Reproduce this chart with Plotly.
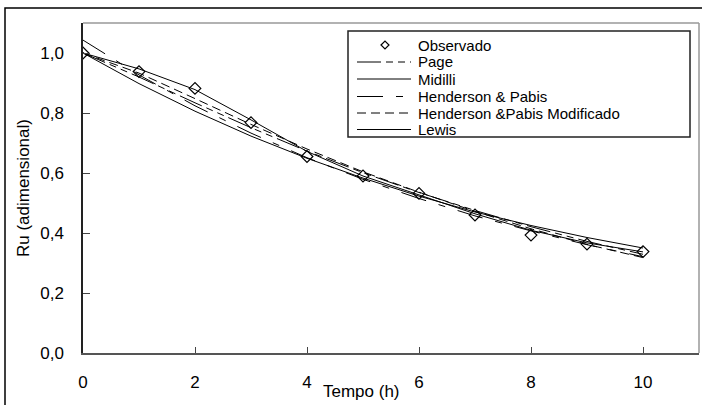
import plotly.graph_objects as go

# ---------------- data ----------------
tempo = [0, 1, 2, 3, 4, 5, 6, 7, 8, 9, 10]
observado = [1.000, 0.938, 0.882, 0.768, 0.655, 0.590, 0.532, 0.460, 0.393, 0.363, 0.338]
page = [1.000, 0.920, 0.834, 0.751, 0.673, 0.601, 0.535, 0.475, 0.421, 0.372, 0.329]
midilli = [1.000, 0.947, 0.878, 0.777, 0.672, 0.590, 0.527, 0.464, 0.409, 0.367, 0.337]
henderson = [1.043, 0.927, 0.824, 0.733, 0.651, 0.579, 0.515, 0.457, 0.407, 0.361, 0.321]
henderson_mod = [1.000, 0.933, 0.848, 0.762, 0.680, 0.604, 0.536, 0.472, 0.414, 0.362, 0.318]
lewis = [1.000, 0.898, 0.806, 0.723, 0.649, 0.583, 0.523, 0.470, 0.425, 0.385, 0.350]

series_names = ["Observado", "Page", "Midilli", "Henderson & Pabis",
                "Henderson &Pabis Modificado", "Lewis"]
x_ticks = [0, 2, 4, 6, 8, 10]
y_ticks = [0.0, 0.2, 0.4, 0.6, 0.8, 1.0]

# ---------------- styles ----------------
FONT = "Liberation Sans, Arial, sans-serif"
DASH_PAGE = "24px,5px,7px,5px,7px,5px"
DASH_HP = "26px,13px,7px,13px"
DASH_HPM = "9px,5px"

W, H = 702, 405
L, R, T, B = 83, 3, 23, 52
PW, PH = W - L - R, H - T - B


def px(x):
    return (x - L) / PW


def py(y):
    return (H - B - y) / PH


fig = go.Figure()

models = [
    (series_names[1], page, DASH_PAGE),
    (series_names[2], midilli, "solid"),
    (series_names[3], henderson, DASH_HP),
    (series_names[4], henderson_mod, DASH_HPM),
    (series_names[5], lewis, "solid"),
]
for name, vals, dash in models:
    fig.add_trace(go.Scatter(x=tempo, y=vals, mode="lines", name=name,
                             line=dict(color="black", width=1, dash=dash),
                             showlegend=False))

fig.add_trace(go.Scatter(x=tempo, y=observado, mode="markers", name=series_names[0],
                         marker=dict(symbol="diamond-open", size=9,
                                     color="black", line=dict(width=1.2, color="black")),
                         showlegend=False))

shapes = []
# outer frame (cut by the picture edges on right / bottom)
shapes.append(dict(type="rect", xref="paper", yref="paper",
                   x0=px(5), y0=py(8), x1=px(720), y1=py(420),
                   line=dict(color="black", width=1.5), layer="below"))
# top / right plot border in grey
shapes.append(dict(type="line", xref="paper", yref="paper", x0=0, x1=1, y0=1, y1=1,
                   line=dict(color="#999999", width=1.5)))
shapes.append(dict(type="line", xref="paper", yref="paper", x0=1, x1=1, y0=0, y1=1,
                   line=dict(color="#999999", width=1.5)))

# manual legend
shapes.append(dict(type="rect", xref="paper", yref="paper",
                   x0=px(348), x1=px(690), y0=py(31), y1=py(137),
                   line=dict(color="#222222", width=1.5), fillcolor="white"))
row_y = [45, 62, 79, 96.5, 113, 129.5]
legend_dashes = [None, DASH_PAGE, "solid", DASH_HP, DASH_HPM, "solid"]
annotations = []
for i, name in enumerate(series_names):
    yy = row_y[i]
    if legend_dashes[i] is None:
        cx, cy, s = 385, yy, 4
        path = (f"M {px(cx - s)},{py(cy)} L {px(cx)},{py(cy - s)} "
                f"L {px(cx + s)},{py(cy)} L {px(cx)},{py(cy + s)} Z")
        shapes.append(dict(type="path", xref="paper", yref="paper", path=path,
                           line=dict(color="black", width=1.2)))
    else:
        shapes.append(dict(type="line", xref="paper", yref="paper",
                           x0=px(357), x1=px(411), y0=py(yy), y1=py(yy),
                           line=dict(color="black", width=1, dash=legend_dashes[i])))
    annotations.append(dict(text=name, xref="paper", yref="paper",
                            x=px(417), y=py(yy), xanchor="left", yanchor="middle",
                            showarrow=False, borderpad=0,
                            font=dict(family=FONT, size=15, color="black")))

# axis titles
annotations.append(dict(text="Tempo (h)", xref="paper", yref="paper",
                        x=px(361), y=py(391), xanchor="center", yanchor="middle",
                        showarrow=False, font=dict(family=FONT, size=17, color="black")))
annotations.append(dict(text="Ru (adimensional)", xref="paper", yref="paper",
                        x=px(23), y=py(188), xanchor="center", yanchor="middle",
                        textangle=-90, showarrow=False,
                        font=dict(family=FONT, size=17, color="black")))

fig.update_layout(
    width=W, height=H,
    margin=dict(l=L, r=R, t=T, b=B, pad=0),
    paper_bgcolor="white", plot_bgcolor="white",
    separators=",.",
    showlegend=False,
    shapes=shapes, annotations=annotations,
    font=dict(family=FONT, size=17, color="black"),
    xaxis=dict(range=[0, 11], tickvals=x_ticks, ticks="inside", ticklen=6,
               tickcolor="#444444", tickwidth=1, showgrid=False, zeroline=False,
               showline=True, linecolor="#555555", linewidth=2,
               ticklabelstandoff=13,
               tickfont=dict(family=FONT, size=17, color="black")),
    yaxis=dict(range=[0, 1.1], tickvals=y_ticks, tickformat=".1f", ticks="inside",
               ticklen=7, tickcolor="#444444", tickwidth=1, showgrid=False,
               zeroline=False, showline=True, linecolor="#222222", linewidth=1.5,
               ticklabelstandoff=14,
               tickfont=dict(family=FONT, size=17, color="black")),
)

fig.write_html("out.html")
